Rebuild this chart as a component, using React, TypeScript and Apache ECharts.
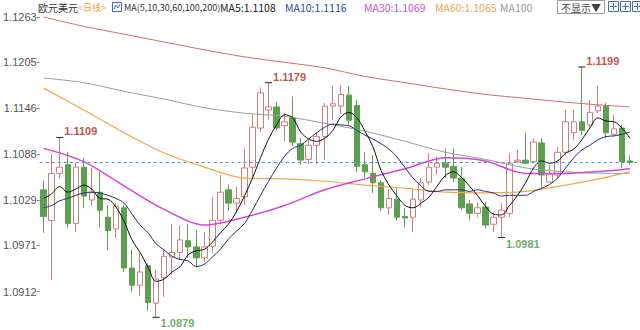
import React, { useEffect, useRef } from "react";
import * as echarts from "echarts";

// [open, close, low, high] per daily candle
const CANDLES: number[][] = [
  [1.1042, 1.1008, 1.0987, 1.1054], [1.1003, 1.1063, 1.0927, 1.1088], [1.1063, 1.1071, 1.1056, 1.1109],
  [1.1074, 1.0999, 1.0993, 1.1090], [1.0999, 1.1071, 1.0988, 1.1076], [1.1071, 1.1034, 1.1019, 1.1083],
  [1.1029, 1.1039, 1.1022, 1.1070], [1.1039, 1.1016, 1.0994, 1.1065], [1.1007, 1.0990, 1.0965, 1.1022],
  [1.0992, 1.1021, 1.0980, 1.1025], [1.1019, 1.0942, 1.0937, 1.1022], [1.0942, 1.0920, 1.0911, 1.0966],
  [1.0920, 1.0937, 1.0906, 1.0961], [1.0945, 1.0898, 1.0887, 1.0948], [1.0897, 1.0928, 1.0879, 1.0939],
  [1.0930, 1.0957, 1.0905, 1.0966], [1.0956, 1.0962, 1.0933, 1.0998], [1.0962, 1.0978, 1.0952, 1.0997],
  [1.0977, 1.0969, 1.0955, 1.0999], [1.0969, 1.0955, 1.0943, 1.0991], [1.0955, 1.0969, 1.0950, 1.0988],
  [1.0970, 1.1003, 1.0962, 1.1033], [1.1003, 1.1039, 1.0998, 1.1061], [1.1042, 1.1025, 1.1015, 1.1049],
  [1.1025, 1.1031, 1.1012, 1.1046], [1.1033, 1.1070, 1.1022, 1.1095], [1.1071, 1.1122, 1.1057, 1.1138],
  [1.1121, 1.1166, 1.1116, 1.1173], [1.1144, 1.1148, 1.1131, 1.1179], [1.1148, 1.1121, 1.1118, 1.1154],
  [1.1124, 1.1129, 1.1104, 1.1140], [1.1134, 1.1103, 1.1098, 1.1161], [1.1101, 1.1080, 1.1074, 1.1108],
  [1.1081, 1.1099, 1.1075, 1.1106], [1.1099, 1.1110, 1.1075, 1.1116], [1.1110, 1.1149, 1.1080, 1.1153],
  [1.1149, 1.1152, 1.1131, 1.1175], [1.1149, 1.1164, 1.1139, 1.1176], [1.1163, 1.1131, 1.1125, 1.1175],
  [1.1150, 1.1072, 1.1065, 1.1157], [1.1074, 1.1065, 1.1058, 1.1090], [1.1063, 1.1051, 1.1038, 1.1086],
  [1.1051, 1.1019, 1.1015, 1.1054], [1.1019, 1.1031, 1.1010, 1.1043], [1.1030, 1.1007, 1.1003, 1.1044],
  [1.1008, 1.1006, 1.0994, 1.1019], [1.1007, 1.1030, 1.0988, 1.1044], [1.1029, 1.1051, 1.1020, 1.1057],
  [1.1052, 1.1071, 1.1048, 1.1089], [1.1071, 1.1076, 1.1061, 1.1084], [1.1076, 1.1071, 1.1057, 1.1095],
  [1.1072, 1.1057, 1.1052, 1.1095], [1.1057, 1.1019, 1.1016, 1.1071], [1.1024, 1.1012, 1.1003, 1.1029],
  [1.1012, 1.1019, 1.1007, 1.1025], [1.1020, 1.0997, 1.0993, 1.1026], [1.0998, 1.1007, 1.0988, 1.1014],
  [1.1007, 1.1016, 1.0981, 1.1025], [1.1012, 1.1076, 1.1007, 1.1089], [1.1078, 1.1080, 1.1076, 1.1093],
  [1.1080, 1.1076, 1.1075, 1.1115], [1.1078, 1.1103, 1.1076, 1.1108], [1.1102, 1.1061, 1.1042, 1.1108],
  [1.1052, 1.1062, 1.1051, 1.1074], [1.1061, 1.1090, 1.1057, 1.1097], [1.1090, 1.1129, 1.1086, 1.1144],
  [1.1115, 1.1129, 1.1106, 1.1144], [1.1129, 1.1118, 1.1112, 1.1199], [1.1125, 1.1141, 1.1122, 1.1157],
  [1.1143, 1.1149, 1.1140, 1.1175], [1.1149, 1.1115, 1.1108, 1.1153], [1.1113, 1.1120, 1.1110, 1.1138],
  [1.1121, 1.1078, 1.1070, 1.1125], [1.1079, 1.1077, 1.1074, 1.1086],
];

const MA5 = [
  1.1031, 1.1037, 1.1046, 1.1039, 1.1043, 1.1048, 1.1043, 1.1031, 1.1030, 1.1020,
  1.1002, 1.0978, 1.0962, 1.0943, 1.0925, 1.0928, 1.0937, 1.0944, 1.0959, 1.0964,
  1.0966, 1.0975, 1.0987, 1.0998, 1.1014, 1.1034, 1.1057, 1.1083, 1.1107, 1.1125,
  1.1138, 1.1134, 1.1116, 1.1107, 1.1104, 1.1108, 1.1118, 1.1135, 1.1141, 1.1134,
  1.1117, 1.1097, 1.1067, 1.1048, 1.1034, 1.1022, 1.1019, 1.1025, 1.1033, 1.1047,
  1.1060, 1.1065, 1.1058, 1.1047, 1.1035, 1.1021, 1.1011, 1.1010, 1.1022, 1.1035,
  1.1051, 1.1070, 1.1079, 1.1076, 1.1079, 1.1089, 1.1094, 1.1106, 1.1121, 1.1134,
  1.1130, 1.1129, 1.1121, 1.1108,
];

const MA10 = [
  1.1019, 1.1022, 1.1028, 1.1031, 1.1035, 1.1038, 1.1039, 1.1038, 1.1035, 1.1031,
  1.1025, 1.1011, 1.0997, 1.0987, 1.0973, 1.0965, 1.0957, 1.0953, 1.0951, 1.0944,
  1.0947, 1.0956, 1.0966, 1.0979, 1.0989, 1.0999, 1.1016, 1.1035, 1.1053, 1.1070,
  1.1085, 1.1095, 1.1099, 1.1107, 1.1115, 1.1122, 1.1126, 1.1125, 1.1124, 1.1118,
  1.1112, 1.1107, 1.1101, 1.1094, 1.1084, 1.1070, 1.1057, 1.1047, 1.1040, 1.1040,
  1.1042, 1.1042, 1.1042, 1.1040, 1.1042, 1.1040, 1.1038, 1.1034, 1.1035, 1.1035,
  1.1035, 1.1040, 1.1044, 1.1049, 1.1057, 1.1070, 1.1083, 1.1093, 1.1099, 1.1106,
  1.1110, 1.1111, 1.1113, 1.1116,
];

// long moving averages read at these candle indices
const MA_SAMPLE_IDX = [0, 5, 10, 15, 20, 25, 30, 35, 40, 45, 50, 55, 60, 65, 70, 73];
const MA30 = [1.1095, 1.1078, 1.1047, 1.1017, 1.0997, 1.1007, 1.1022, 1.1042, 1.1056, 1.1069, 1.1083, 1.1079, 1.1063, 1.1063, 1.1066, 1.1069];
const MA60 = [1.1172, 1.1144, 1.1115, 1.1089, 1.1071, 1.1057, 1.1056, 1.1053, 1.1048, 1.1044, 1.1039, 1.1038, 1.1040, 1.1048, 1.1058, 1.1065];
const MA100 = [1.1185, 1.1179, 1.1168, 1.1158, 1.1147, 1.1140, 1.1136, 1.1127, 1.1117, 1.1104, 1.1090, 1.1081, 1.1070, 1.1065, 1.1063, 1.1063];
const MA200 = [1.1263, 1.1251, 1.1241, 1.1231, 1.1221, 1.1212, 1.1205, 1.1198, 1.1187, 1.1179, 1.1171, 1.1164, 1.1159, 1.1154, 1.1150, 1.1148];

const Y_TICK_LABELS = ["1.0912", "1.0971", "1.1029", "1.1088", "1.1146", "1.1205", "1.1263"];
const Y_MIN = 1.08628;
const Y_MAX = 1.12847;
const LAST_PRICE = 1.1077;

const HIGH_MARK_IDX = [2, 28, 67];
const HIGH_MARK_VAL = [1.1109, 1.1179, 1.1199];
const LOW_MARK_IDX = [14, 57];
const LOW_MARK_VAL = [1.0879, 1.0981];

const LEGEND_TEXTS = ["MA(5,10,30,60,100,200)", "MA5:1.1108", "MA10:1.1116", "MA30:1.1069", "MA60:1.1065", "MA100"];
const LEGEND_X = [124, 220, 285, 364, 435, 500];
const LEGEND_SIZE = [9, 10.5, 10.5, 10.5, 10.5, 10.5];
const LEGEND_COLORS = ["#333333", "#222222", "#2b4a9a", "#d24fd2", "#eea453", "#999999"];

const CATEGORIES = CANDLES.map((_, i) => String(i + 1));

const UP_BORDER = "#c9807d";
const DOWN_COLOR = "#5c9f50";
const CJK = "'Noto Sans CJK SC', sans-serif";
const LATIN = "'Liberation Sans', Arial, sans-serif";
const GRID_LEFT = 37.7;
const GRID_RIGHT = 6;

function sampled(values: number[]) {
  return MA_SAMPLE_IDX.map((idx, k) => [idx, values[k]]);
}

function lineSeries(name: string, data: any[], color: string, width: number, smooth: number) {
  return {
    name,
    type: "line",
    data,
    showSymbol: false,
    symbol: "none",
    smooth,
    z: 3,
    silent: true,
    lineStyle: { color, width },
  };
}

function markLabel(value: number, high: boolean) {
  return {
    show: true,
    formatter: value.toFixed(4),
    position: "right",
    distance: 1,
    offset: [0, high ? -6 : 6],
    color: high ? "#c4574a" : "#6fae68",
    fontSize: 11,
    fontWeight: "bold",
    fontFamily: LATIN,
  };
}

function headerGraphics() {
  const els: any[] = [];
  const txt = (x: number, text: string, fill: string, size: number, font: string) => ({
    type: "text",
    x,
    y: 7,
    silent: true,
    style: { text, fill, font: `${size}px ${font}`, textVerticalAlign: "middle", verticalAlign: "middle" },
  });
  els.push(txt(38, "欧元美元", "#333333", 10, CJK));
  els.push(txt(78, "<日线>", "#f0a24a", 9, CJK));
  els.push({ type: "rect", shape: { x: 112.5, y: 2.5, width: 9, height: 9 }, style: { fill: "#fff", stroke: "#3d6cc0", lineWidth: 1 }, silent: true });
  els.push({ type: "polyline", shape: { points: [[114, 9], [116, 5], [118, 8], [120, 4]] }, style: { fill: "none", stroke: "#3d6cc0", lineWidth: 1 }, silent: true });
  LEGEND_TEXTS.forEach((t, i) => els.push(txt(LEGEND_X[i], t, LEGEND_COLORS[i], LEGEND_SIZE[i], CJK)));
  els.push({ type: "rect", shape: { x: 557.5, y: 0.5, width: 47, height: 13 }, style: { fill: "#fff", stroke: "#9a9a9a", lineWidth: 1 }, silent: true });
  els.push(txt(561, "不显示▼", "#444444", 10, CJK));
  [608.5, 620.5, 632.5].forEach((x) => {
    els.push({ type: "rect", shape: { x, y: 1.5, width: 10, height: 10 }, style: { fill: "#fff", stroke: "#3d6cc0", lineWidth: 1 }, silent: true });
    els.push({ type: "line", shape: { x1: x + 5, y1: 3, x2: x + 5, y2: 10 }, style: { stroke: "#3d6cc0", lineWidth: 1 }, silent: true });
    els.push({ type: "line", shape: { x1: x + 1.5, y1: 6.5, x2: x + 8.5, y2: 6.5 }, style: { stroke: "#3d6cc0", lineWidth: 1 }, silent: true });
  });
  return els;
}

export default function App() {
  const ref = useRef<HTMLDivElement>(null);
  useEffect(() => {
    document.body.style.margin = "0";
    const chart = echarts.init(ref.current!, null, { renderer: "svg" });
    const markData = [
      ...HIGH_MARK_IDX.map((idx, k) => ({ coord: [idx, HIGH_MARK_VAL[k]], value: HIGH_MARK_VAL[k], label: markLabel(HIGH_MARK_VAL[k], true) })),
      ...LOW_MARK_IDX.map((idx, k) => ({ coord: [idx, LOW_MARK_VAL[k]], value: LOW_MARK_VAL[k], label: markLabel(LOW_MARK_VAL[k], false) })),
    ];
    const tickValues = Y_TICK_LABELS.map(Number);
    chart.setOption({
      animation: false,
      backgroundColor: "#ffffff",
      grid: { left: GRID_LEFT, right: GRID_RIGHT, top: 0, bottom: 0, containLabel: false },
      xAxis: {
        type: "category",
        data: CATEGORIES,
        boundaryGap: true,
        show: false,
      },
      yAxis: {
        type: "value",
        min: Y_MIN,
        max: Y_MAX,
        splitLine: { show: false },
        axisLine: { show: false },
        axisTick: { show: true, length: 3, customValues: tickValues, lineStyle: { color: "#8a8a8a" } },
        axisLabel: {
          margin: 3,
          color: "#555555",
          fontSize: 11,
          fontFamily: LATIN,
          customValues: tickValues,
          showMinLabel: true,
          showMaxLabel: true,
          formatter: (v: number) => {
            let best = "";
            let bd = 1;
            Y_TICK_LABELS.forEach((s) => {
              const d = Math.abs(parseFloat(s) - v);
              if (d < bd) { bd = d; best = s; }
            });
            return bd < 0.0005 ? best : "";
          },
        },
      },
      graphic: headerGraphics(),
      series: [
        {
          name: "EURUSD",
          type: "candlestick",
          data: CANDLES,
          barWidth: 6,
          z: 2,
          itemStyle: {
            color: "#ffffff",
            color0: DOWN_COLOR,
            borderColor: UP_BORDER,
            borderColor0: DOWN_COLOR,
            borderWidth: 1,
          },
          markLine: {
            silent: true,
            symbol: "none",
            precision: 4,
            label: { show: false },
            lineStyle: { color: "#5b8fd6", type: [3, 3], width: 1 },
            data: [{ yAxis: LAST_PRICE }],
          },
          markPoint: {
            silent: true,
            symbol: "rect",
            symbolSize: [7, 1],
            itemStyle: { color: "#222222" },
            data: markData,
          },
        },
        lineSeries("MA200", sampled(MA200), "#cd6f6d", 1, 0.3),
        lineSeries("MA100", sampled(MA100), "#9c9c9c", 1, 0.3),
        lineSeries("MA60", sampled(MA60), "#f2a64b", 1.2, 0.3),
        lineSeries("MA30", sampled(MA30), "#d248d2", 1.5, 0.3),
        lineSeries("MA10", MA10, "#23306b", 1, 0.35),
        lineSeries("MA5", MA5, "#111111", 1, 0.35),
      ],
    });
    // extend the dashed last-price line to the right edge, positioned by the y scale
    const py = chart.convertToPixel({ yAxisIndex: 0 }, LAST_PRICE) as number;
    chart.setOption({
      graphic: [
        ...headerGraphics(),
        {
          type: "line",
          silent: true,
          shape: { x1: 640 - GRID_RIGHT, y1: py, x2: 640, y2: py },
          style: { stroke: "#5b8fd6", lineWidth: 1, lineDash: [3, 3] },
        },
      ],
    });
    return () => chart.dispose();
  }, []);
  return (
    <div
      ref={ref}
      style={{ position: "absolute", left: 0, top: 0, width: 640, height: 330, background: "#fff" }}
    />
  );
}
